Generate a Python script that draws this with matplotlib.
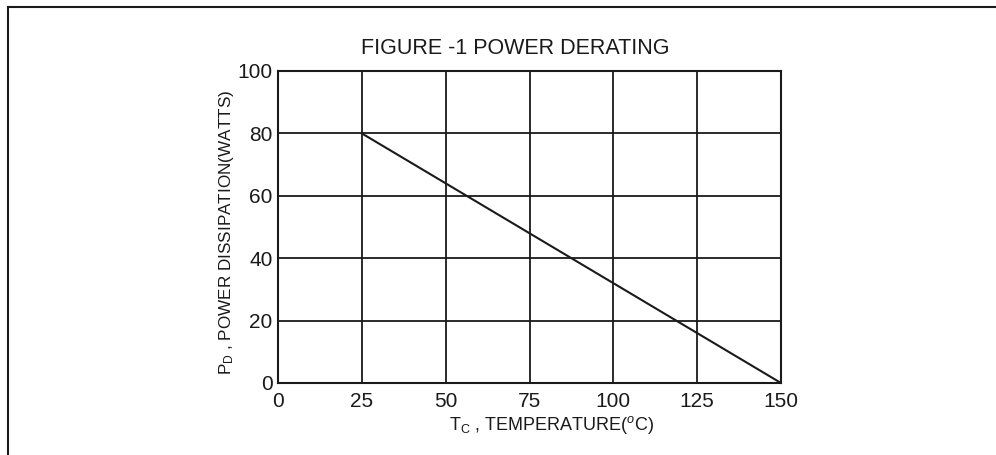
import matplotlib
matplotlib.use("Agg")
import matplotlib.pyplot as plt
from matplotlib.lines import Line2D

plt.rcParams['font.family'] = ['Liberation Sans', 'DejaVu Sans']
plt.rcParams['mathtext.fontset'] = 'custom'
plt.rcParams['mathtext.rm'] = 'Liberation Sans'
plt.rcParams['mathtext.it'] = 'Liberation Sans:italic'

# derating curve
temp_c = [25, 150]
power_w = [80, 0]

x_ticks = [0, 25, 50, 75, 100, 125, 150]
y_ticks = [0, 20, 40, 60, 80, 100]

title = "FIGURE -1 POWER DERATING"
x_label = r"T$_\mathregular{C}$ , TEMPERATURE($^\mathit{o}$C)"
y_label = r"P$_\mathregular{D}$ , POWER DISSIPATION(WATTS)"

ink = "#1a1a1a"

fig = plt.figure(figsize=(9.96, 4.55), dpi=100)
ax = fig.add_axes([278 / 996, 1 - 383 / 455, (781 - 278) / 996, (383 - 71) / 455])

ax.plot(temp_c, power_w, color=ink, lw=1.5)

ax.set_xlim(0, 150)
ax.set_ylim(0, 100)
ax.set_xticks(x_ticks)
ax.set_yticks(y_ticks)
ax.grid(True, color=ink, lw=1.3)
ax.tick_params(length=0, labelsize=15, colors=ink)
ax.tick_params(axis='x', pad=6.5)
ax.tick_params(axis='y', pad=4)
for s in ax.spines.values():
    s.set_color(ink)
    s.set_linewidth(1.5)

fig.text(515 / 996, 1 - 48 / 455, title, ha='center', va='center',
         fontsize=15.5, color=ink)
fig.text(552 / 996, 1 - 425 / 455, x_label, ha='center', va='center',
         fontsize=13, color=ink)
fig.text(226 / 996, 1 - 232 / 455, y_label, ha='center', va='center',
         rotation=90, fontsize=12.3, color=ink)

# outer frame of the datasheet figure
fig.add_artist(Line2D([8 / 996, 8 / 996], [0, 1 - 7 / 455],
                      transform=fig.transFigure, color=ink, lw=1.5))
fig.add_artist(Line2D([8 / 996, 1], [1 - 7 / 455, 1 - 7 / 455],
                      transform=fig.transFigure, color=ink, lw=1.5))

fig.savefig("out.png", dpi=100)
